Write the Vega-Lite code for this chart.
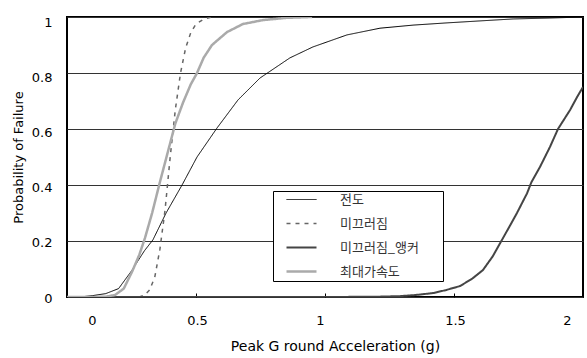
{
  "$schema": "https://vega.github.io/schema/vega-lite/v6.json",
  "width": 516,
  "height": 280,
  "autosize": {"type": "none"},
  "padding": {"left": 67, "top": 17, "right": 4, "bottom": 61},
  "background": "white",
  "config": {"view": {"stroke": "#000", "strokeWidth": 2}, "font": "DejaVu Sans"},
  "data": {"values": [
    {"series": "전도", "pga": 0, "pf": 0},
    {"series": "전도", "pga": 0.05, "pf": 0},
    {"series": "전도", "pga": 0.1, "pf": 0.005},
    {"series": "전도", "pga": 0.15, "pf": 0.012},
    {"series": "전도", "pga": 0.2, "pf": 0.03},
    {"series": "전도", "pga": 0.25, "pf": 0.093},
    {"series": "전도", "pga": 0.3, "pf": 0.165},
    {"series": "전도", "pga": 0.333, "pf": 0.204},
    {"series": "전도", "pga": 0.384, "pf": 0.3},
    {"series": "전도", "pga": 0.446, "pf": 0.4},
    {"series": "전도", "pga": 0.504, "pf": 0.5},
    {"series": "전도", "pga": 0.581, "pf": 0.603},
    {"series": "전도", "pga": 0.663, "pf": 0.704},
    {"series": "전도", "pga": 0.748, "pf": 0.782},
    {"series": "전도", "pga": 0.864, "pf": 0.854},
    {"series": "전도", "pga": 0.953, "pf": 0.893},
    {"series": "전도", "pga": 1.085, "pf": 0.936},
    {"series": "전도", "pga": 1.213, "pf": 0.96},
    {"series": "전도", "pga": 1.341, "pf": 0.971},
    {"series": "전도", "pga": 1.473, "pf": 0.979},
    {"series": "전도", "pga": 1.6, "pf": 0.986},
    {"series": "전도", "pga": 1.729, "pf": 0.993},
    {"series": "전도", "pga": 1.86, "pf": 0.996},
    {"series": "전도", "pga": 2.0, "pf": 1.0},
    {"series": "미끄러짐", "pga": 0, "pf": 0},
    {"series": "미끄러짐", "pga": 0.28, "pf": 0},
    {"series": "미끄러짐", "pga": 0.3, "pf": 0.006},
    {"series": "미끄러짐", "pga": 0.32, "pf": 0.025},
    {"series": "미끄러짐", "pga": 0.34, "pf": 0.07},
    {"series": "미끄러짐", "pga": 0.36, "pf": 0.17},
    {"series": "미끄러짐", "pga": 0.38, "pf": 0.31},
    {"series": "미끄러짐", "pga": 0.4, "pf": 0.5},
    {"series": "미끄러짐", "pga": 0.42, "pf": 0.67},
    {"series": "미끄러짐", "pga": 0.44, "pf": 0.8},
    {"series": "미끄러짐", "pga": 0.46, "pf": 0.89},
    {"series": "미끄러짐", "pga": 0.48, "pf": 0.945},
    {"series": "미끄러짐", "pga": 0.5, "pf": 0.975},
    {"series": "미끄러짐", "pga": 0.53, "pf": 0.992},
    {"series": "미끄러짐", "pga": 0.56, "pf": 1.0},
    {"series": "미끄러짐_앵커", "pga": 0, "pf": 0},
    {"series": "미끄러짐_앵커", "pga": 1.0, "pf": 0},
    {"series": "미끄러짐_앵커", "pga": 1.2, "pf": 0.001},
    {"series": "미끄러짐_앵커", "pga": 1.29, "pf": 0.003},
    {"series": "미끄러짐_앵커", "pga": 1.35, "pf": 0.007},
    {"series": "미끄러짐_앵커", "pga": 1.419, "pf": 0.014},
    {"series": "미끄러짐_앵커", "pga": 1.47, "pf": 0.025},
    {"series": "미끄러짐_앵커", "pga": 1.523, "pf": 0.039},
    {"series": "미끄러짐_앵커", "pga": 1.57, "pf": 0.065},
    {"series": "미끄러짐_앵커", "pga": 1.612, "pf": 0.096},
    {"series": "미끄러짐_앵커", "pga": 1.65, "pf": 0.145},
    {"series": "미끄러짐_앵커", "pga": 1.686, "pf": 0.204},
    {"series": "미끄러짐_앵커", "pga": 1.72, "pf": 0.26},
    {"series": "미끄러짐_앵커", "pga": 1.744, "pf": 0.3},
    {"series": "미끄러짐_앵커", "pga": 1.783, "pf": 0.37},
    {"series": "미끄러짐_앵커", "pga": 1.8, "pf": 0.41},
    {"series": "미끄러짐_앵커", "pga": 1.833, "pf": 0.464},
    {"series": "미끄러짐_앵커", "pga": 1.872, "pf": 0.536},
    {"series": "미끄러짐_앵커", "pga": 1.903, "pf": 0.6},
    {"series": "미끄러짐_앵커", "pga": 1.95, "pf": 0.668},
    {"series": "미끄러짐_앵커", "pga": 1.977, "pf": 0.714},
    {"series": "미끄러짐_앵커", "pga": 2.0, "pf": 0.75},
    {"series": "최대가속도", "pga": 0, "pf": 0},
    {"series": "최대가속도", "pga": 0.1, "pf": 0},
    {"series": "최대가속도", "pga": 0.15, "pf": 0.001},
    {"series": "최대가속도", "pga": 0.186, "pf": 0.007},
    {"series": "최대가속도", "pga": 0.22, "pf": 0.03},
    {"series": "최대가속도", "pga": 0.252, "pf": 0.09},
    {"series": "최대가속도", "pga": 0.28, "pf": 0.15},
    {"series": "최대가속도", "pga": 0.302, "pf": 0.21},
    {"series": "최대가속도", "pga": 0.33, "pf": 0.3},
    {"series": "최대가속도", "pga": 0.36, "pf": 0.41},
    {"series": "최대가속도", "pga": 0.39, "pf": 0.515},
    {"series": "최대가속도", "pga": 0.42, "pf": 0.62},
    {"series": "최대가속도", "pga": 0.45, "pf": 0.695},
    {"series": "최대가속도", "pga": 0.48, "pf": 0.76},
    {"series": "최대가속도", "pga": 0.504, "pf": 0.8},
    {"series": "최대가속도", "pga": 0.53, "pf": 0.855},
    {"series": "최대가속도", "pga": 0.562, "pf": 0.9},
    {"series": "최대가속도", "pga": 0.62, "pf": 0.946},
    {"series": "최대가속도", "pga": 0.682, "pf": 0.975},
    {"series": "최대가속도", "pga": 0.76, "pf": 0.989},
    {"series": "최대가속도", "pga": 0.85, "pf": 0.997},
    {"series": "최대가속도", "pga": 0.95, "pf": 1.0}
  ]},
  "mark": {"type": "line", "clip": true},
  "encoding": {
    "x": {
      "field": "pga", "type": "quantitative",
      "scale": {"domain": [0, 2], "nice": false, "zero": false},
      "axis": {
        "title": "Peak G round Acceleration (g)",
        "titleX": 268,
        "values": [0, 0.5, 1, 1.5, 2],
        "format": "~g",
        "grid": false,
        "domain": false,
        "ticks": true,
        "tickSize": -4,
        "tickColor": "#000",
        "labelFlush": false,
        "labelPadding": 21,
        "labelFont": "DejaVu Sans",
        "labelFontSize": 13,
        "labelColor": "#000",
        "labelOffset": {"expr": "datum.value == 0 ? 25 : datum.value == 2 ? -16 : datum.value == 1 ? -5 : 1"},
        "titleFont": "DejaVu Sans",
        "titleFontSize": 14,
        "titleFontWeight": "normal",
        "titleColor": "#000",
        "titlePadding": 12
      }
    },
    "y": {
      "field": "pf", "type": "quantitative",
      "scale": {"domain": [0, 1], "nice": false},
      "axis": {
        "title": "Probability of Failure",
        "values": [0, 0.2, 0.4, 0.6, 0.8, 1],
        "format": "~g",
        "grid": true,
        "gridColor": "#333",
        "gridWidth": 1,
        "gridOpacity": 1,
        "domain": false,
        "ticks": false,
        "labelPadding": 15,
        "labelFont": "DejaVu Sans",
        "labelFontSize": 13,
        "labelColor": "#000",
        "labelOffset": {"expr": "1 + 4*datum.value"},
        "titleFont": "DejaVu Sans",
        "titleFontSize": 13,
        "titleFontWeight": "normal",
        "titleColor": "#000",
        "titlePadding": 6
      }
    },
    "color": {
      "field": "series", "type": "nominal",
      "scale": {"domain": ["전도", "미끄러짐", "미끄러짐_앵커", "최대가속도"], "range": ["#000000", "#666666", "#454545", "#aaaaaa"]},
      "legend": {
        "title": "\u00a0",
        "titleOrient": "right",
        "titlePadding": 22,
        "titleFontSize": 8,
        "orient": "none",
        "legendX": 206,
        "legendY": 174,
        "fillColor": "white",
        "strokeColor": "#000",
        "padding": 2,
        "symbolType": "M-3,0H3",
        "symbolSize": 100,
        "symbolOffset": 20,
        "labelOffset": 32,
        "rowPadding": 10,
        "labelFont": "Noto Sans CJK KR",
        "labelFontSize": 13,
        "labelColor": "#333",
        "labelLimit": 300
      }
    },
    "strokeDash": {
      "field": "series", "type": "nominal",
      "scale": {"domain": ["전도", "미끄러짐", "미끄러짐_앵커", "최대가속도"], "range": [[1, 0], [4, 5], [1, 0], [1, 0]]}
    },
    "strokeWidth": {
      "field": "series", "type": "nominal",
      "scale": {"domain": ["전도", "미끄러짐", "미끄러짐_앵커", "최대가속도"], "range": [1, 2.5, 2.5, 2.5]}
    }
  }
}
